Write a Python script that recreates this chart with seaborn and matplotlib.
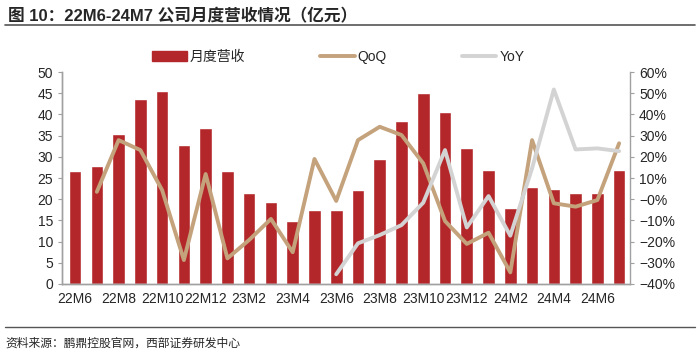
import numpy as np
import pandas as pd
import matplotlib
matplotlib.use("Agg")
import matplotlib.pyplot as plt
import matplotlib.ticker as mticker
from matplotlib.lines import Line2D
from matplotlib.patches import Patch
import seaborn as sns

months = ["22M6", "22M7", "22M8", "22M9", "22M10", "22M11", "22M12",
          "23M1", "23M2", "23M3", "23M4", "23M5", "23M6", "23M7", "23M8",
          "23M9", "23M10", "23M11", "23M12", "24M1", "24M2", "24M3", "24M4",
          "24M5", "24M6", "24M7"]
revenue = [26.7, 27.8, 35.4, 43.7, 45.6, 32.8, 36.8, 26.6, 21.5, 19.4, 14.8,
           17.5, 17.4, 22.1, 29.6, 38.5, 45.0, 40.6, 32.1, 27.0, 17.9, 22.9,
           22.3, 21.5, 21.5, 27.0]
qoq = [np.nan, 3.5, 27.9, 23.2, 4.3, -28.7, 11.9, -27.9, -19.2, -9.3, -25.0,
       19.0, -0.8, 27.9, 34.2, 30.3, 16.9, -10.3, -21.1, -15.8, -34.5, 27.9,
       -1.9, -3.5, -0.4, 26.4]
yoy = [np.nan] * 12 + [-35.4, -20.8, -16.9, -12.2, -1.6, 23.2, -13.3, 1.5,
                       -17.2, 14.6, 51.8, 23.5, 24.0, 22.7]

df = pd.DataFrame({"month": months, "revenue": revenue,
                   "qoq": np.array(qoq) / 100, "yoy": np.array(yoy) / 100})
df["idx"] = np.arange(len(df))

sns.set_style("white")
plt.rcParams["font.family"] = ["Liberation Sans", "Noto Sans CJK SC"]

bar_color = "#B3272A"
qoq_color = "#C4A27C"
yoy_color = "#D3D3D3"

fig = plt.figure(figsize=(7, 3.57), dpi=100)
ax = fig.add_axes([0.0886, 0.2045, 0.8114, 0.5935])

sns.barplot(data=df, x="month", y="revenue", color=bar_color, width=0.58,
            saturation=1, ax=ax)
ax.set_ylim(0, 50)
ax.set_yticks(range(0, 51, 5))
ax.set_xlim(-0.6, 25.5)
ax.set_xlabel("")
ax.set_ylabel("")

ax2 = ax.twinx()
sns.lineplot(data=df, x="idx", y="qoq", color=qoq_color, linewidth=2.8, ax=ax2)
sns.lineplot(data=df, x="idx", y="yoy", color=yoy_color, linewidth=2.8, ax=ax2)
ax2.set_ylim(-0.4, 0.6)
ax2.set_yticks(np.arange(-0.4, 0.61, 0.1))
ax2.yaxis.set_major_formatter(mticker.PercentFormatter(1.0, decimals=0))
ax2.set_xlim(-0.6, 25.5)
ax2.set_xlabel("")
ax2.set_ylabel("")

ax.set_xticks(range(0, len(months), 2))
ax.set_xticklabels(months[::2])
ax.set_xticks(np.arange(-0.5, len(months), 1), minor=True)
ax.tick_params(axis="x", which="major", length=0, labelsize=10, pad=6)
ax.tick_params(axis="x", which="minor", length=3, color="#A0A0A0")
ax.tick_params(axis="y", length=3, color="#A0A0A0", labelsize=10, left=True)
ax2.tick_params(axis="y", length=3, color="#A0A0A0", labelsize=10, right=True)
ax2.tick_params(axis="x", bottom=False, labelbottom=False)

for a in (ax, ax2):
    a.spines["top"].set_visible(False)
    for s in ("left", "right", "bottom"):
        a.spines[s].set_color("#A0A0A0")
        a.spines[s].set_linewidth(1.0)
ax.spines["right"].set_visible(False)

handles = [Patch(facecolor=bar_color, edgecolor=bar_color),
           Line2D([0], [0], color=qoq_color, linewidth=2.8),
           Line2D([0], [0], color=yoy_color, linewidth=2.8)]
fig.legend(handles, ["月度营收", "QoQ", "YoY"], loc="center",
           bbox_to_anchor=(0.483, 0.84), ncol=3, frameon=False,
           columnspacing=5.4, handlelength=2.5, handletextpad=0.2,
           fontsize=10)

fig.text(0.012, 0.955, "图 10：22M6-24M7 公司月度营收情况（亿元）",
         fontsize=12, fontweight="bold", va="center", ha="left",
         family=["Liberation Sans", "Noto Sans CJK SC"])
fig.add_artist(Line2D([0.007, 0.993], [0.93, 0.93], color="#555555",
                      linewidth=1.2, transform=fig.transFigure))
fig.add_artist(Line2D([0.007, 0.993], [0.083, 0.083], color="#555555",
                      linewidth=1.0, transform=fig.transFigure))
fig.text(0.008, 0.04, "资料来源：鹏鼎控股官网，西部证券研发中心",
         fontsize=8.5, va="center", ha="left",
         family=["Noto Sans CJK SC"])

fig.savefig("out.png", dpi=100)
